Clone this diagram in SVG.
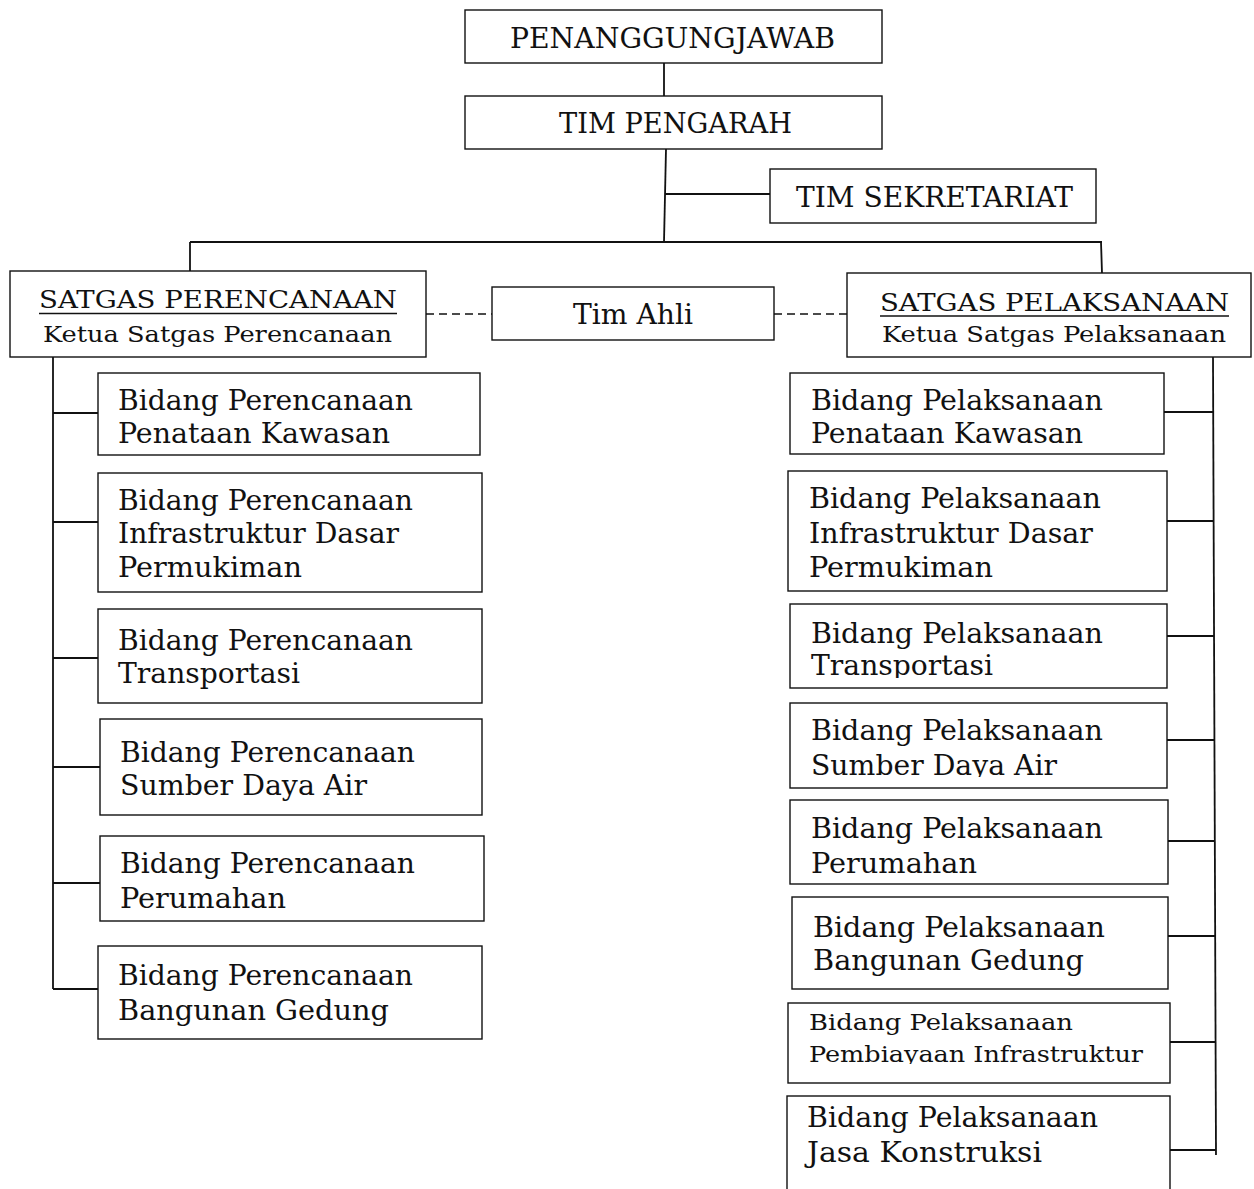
<svg xmlns="http://www.w3.org/2000/svg" width="1254" height="1189" viewBox="0 0 1254 1189">
<style>
.box{fill:#fff;stroke:#111;stroke-width:1.4}
.ln{stroke:#111;stroke-width:1.8;fill:none}
.dash{stroke:#111;stroke-width:1.5;stroke-dasharray:8 5;fill:none}
text{font-family:"DejaVu Serif","Liberation Serif",serif;fill:#111}
.t{font-size:27px}
.h{font-size:27px}
.s{font-size:24px}
.k{font-size:22px}
.m{font-size:22.5px}
</style>
<defs>
<clipPath id="cTr"><rect x="790" y="604" width="377" height="74"/></clipPath>
<clipPath id="cSda"><rect x="790" y="703" width="377" height="74"/></clipPath>
<clipPath id="cPb"><rect x="788" y="1003" width="382" height="61"/></clipPath>
<clipPath id="cKp"><rect x="847" y="273" width="407" height="74"/></clipPath>
</defs>
<rect width="1254" height="1189" fill="#fff"/>
<g id="connectors">
<line class="ln" x1="664" y1="63" x2="664" y2="96"/>
<line class="ln" x1="666" y1="149" x2="664" y2="242"/>
<line class="ln" x1="665" y1="194" x2="770" y2="194"/>
<line class="ln" x1="190" y1="242" x2="1102" y2="242"/>
<line class="ln" x1="190" y1="242" x2="190" y2="271"/>
<line class="ln" x1="1101" y1="242" x2="1102" y2="273"/>
<line class="dash" x1="426" y1="314" x2="492" y2="314"/>
<line class="dash" x1="774" y1="314" x2="847" y2="314"/>
<line class="ln" x1="53" y1="357" x2="53" y2="989"/>
<line class="ln" x1="53" y1="413" x2="98" y2="413"/>
<line class="ln" x1="53" y1="522" x2="100" y2="522"/>
<line class="ln" x1="53" y1="658" x2="98" y2="658"/>
<line class="ln" x1="53" y1="767" x2="100" y2="767"/>
<line class="ln" x1="53" y1="883" x2="102" y2="883"/>
<line class="ln" x1="53" y1="989" x2="98" y2="989"/>
<line class="ln" x1="1213" y1="357" x2="1216" y2="1155"/>
<line class="ln" x1="1164" y1="412" x2="1213" y2="412"/>
<line class="ln" x1="1167" y1="521" x2="1214" y2="521"/>
<line class="ln" x1="1165" y1="636" x2="1214" y2="636"/>
<line class="ln" x1="1167" y1="740" x2="1215" y2="740"/>
<line class="ln" x1="1168" y1="841" x2="1215" y2="841"/>
<line class="ln" x1="1168" y1="936" x2="1215" y2="936"/>
<line class="ln" x1="1170" y1="1042" x2="1216" y2="1042"/>
<line class="ln" x1="1170" y1="1150" x2="1216" y2="1150"/>
</g>
<g id="penanggungjawab">
<rect class="box" x="465" y="10" width="417" height="53"/>
<text class="h" x="510" y="48" textLength="325" lengthAdjust="spacingAndGlyphs">PENANGGUNGJAWAB</text>
</g>
<g id="tim-pengarah">
<rect class="box" x="465" y="96" width="417" height="53"/>
<text class="h" x="559" y="133" textLength="233" lengthAdjust="spacingAndGlyphs">TIM PENGARAH</text>
</g>
<g id="tim-sekretariat">
<rect class="box" x="770" y="169" width="326" height="54"/>
<text class="h" x="796" y="207" textLength="277" lengthAdjust="spacingAndGlyphs">TIM SEKRETARIAT</text>
</g>
<g id="satgas-perencanaan">
<rect class="box" x="10" y="271" width="416" height="86"/>
<text class="s" x="39" y="308" textLength="358" lengthAdjust="spacingAndGlyphs">SATGAS PERENCANAAN</text>
<line x1="39" y1="313.5" x2="397" y2="313.5" stroke="#111" stroke-width="1.6"/>
<text class="k" x="43" y="342" textLength="349" lengthAdjust="spacingAndGlyphs">Ketua Satgas Perencanaan</text>
</g>
<g id="tim-ahli">
<rect class="box" x="492" y="287" width="282" height="53"/>
<text class="t" x="573" y="324" textLength="120" lengthAdjust="spacingAndGlyphs">Tim Ahli</text>
</g>
<g id="satgas-pelaksanaan">
<rect class="box" x="847" y="273" width="404" height="84"/>
<text class="s" x="880" y="311" textLength="349" lengthAdjust="spacingAndGlyphs">SATGAS PELAKSANAAN</text>
<line x1="880" y1="316" x2="1229" y2="316" stroke="#111" stroke-width="1.6"/>
<text class="k" x="882" y="342" textLength="344" lengthAdjust="spacingAndGlyphs" clip-path="url(#cKp)">Ketua Satgas Pelaksanaan</text>
</g>
<g id="ren-penataan-kawasan">
<rect class="box" x="98" y="373" width="382" height="82"/>
<text class="t" x="118" y="410" textLength="295" lengthAdjust="spacingAndGlyphs">Bidang Perencanaan</text>
<text class="t" x="118" y="443" textLength="272" lengthAdjust="spacingAndGlyphs">Penataan Kawasan</text>
</g>
<g id="ren-infrastruktur">
<rect class="box" x="98" y="473" width="384" height="119"/>
<text class="t" x="118" y="510" textLength="295" lengthAdjust="spacingAndGlyphs">Bidang Perencanaan</text>
<text class="t" x="118" y="543" textLength="281" lengthAdjust="spacingAndGlyphs">Infrastruktur Dasar</text>
<text class="t" x="118" y="577" textLength="184" lengthAdjust="spacingAndGlyphs">Permukiman</text>
</g>
<g id="ren-transportasi">
<rect class="box" x="98" y="609" width="384" height="94"/>
<text class="t" x="118" y="650" textLength="295" lengthAdjust="spacingAndGlyphs">Bidang Perencanaan</text>
<text class="t" x="118" y="683" textLength="182" lengthAdjust="spacingAndGlyphs">Transportasi</text>
</g>
<g id="ren-sda">
<rect class="box" x="100" y="719" width="382" height="96"/>
<text class="t" x="120" y="762" textLength="295" lengthAdjust="spacingAndGlyphs">Bidang Perencanaan</text>
<text class="t" x="120" y="795" textLength="247" lengthAdjust="spacingAndGlyphs">Sumber Daya Air</text>
</g>
<g id="ren-perumahan">
<rect class="box" x="100" y="836" width="384" height="85"/>
<text class="t" x="120" y="873" textLength="295" lengthAdjust="spacingAndGlyphs">Bidang Perencanaan</text>
<text class="t" x="120" y="908" textLength="166" lengthAdjust="spacingAndGlyphs">Perumahan</text>
</g>
<g id="ren-gedung">
<rect class="box" x="98" y="946" width="384" height="93"/>
<text class="t" x="118" y="985" textLength="295" lengthAdjust="spacingAndGlyphs">Bidang Perencanaan</text>
<text class="t" x="118" y="1020" textLength="271" lengthAdjust="spacingAndGlyphs">Bangunan Gedung</text>
</g>
<g id="pel-penataan-kawasan">
<rect class="box" x="790" y="373" width="374" height="81"/>
<text class="t" x="811" y="410" textLength="292" lengthAdjust="spacingAndGlyphs">Bidang Pelaksanaan</text>
<text class="t" x="811" y="443" textLength="272" lengthAdjust="spacingAndGlyphs">Penataan Kawasan</text>
</g>
<g id="pel-infrastruktur">
<rect class="box" x="788" y="471" width="379" height="120"/>
<text class="t" x="809" y="508" textLength="292" lengthAdjust="spacingAndGlyphs">Bidang Pelaksanaan</text>
<text class="t" x="809" y="543" textLength="284" lengthAdjust="spacingAndGlyphs">Infrastruktur Dasar</text>
<text class="t" x="809" y="577" textLength="184" lengthAdjust="spacingAndGlyphs">Permukiman</text>
</g>
<g id="pel-transportasi">
<rect class="box" x="790" y="604" width="377" height="84"/>
<text class="t" x="811" y="643" textLength="292" lengthAdjust="spacingAndGlyphs">Bidang Pelaksanaan</text>
<text class="t" x="811" y="675" textLength="182" lengthAdjust="spacingAndGlyphs" clip-path="url(#cTr)">Transportasi</text>
</g>
<g id="pel-sda">
<rect class="box" x="790" y="703" width="377" height="85"/>
<text class="t" x="811" y="740" textLength="292" lengthAdjust="spacingAndGlyphs">Bidang Pelaksanaan</text>
<text class="t" x="811" y="775" textLength="246" lengthAdjust="spacingAndGlyphs" clip-path="url(#cSda)">Sumber Daya Air</text>
</g>
<g id="pel-perumahan">
<rect class="box" x="790" y="800" width="378" height="84"/>
<text class="t" x="811" y="838" textLength="292" lengthAdjust="spacingAndGlyphs">Bidang Pelaksanaan</text>
<text class="t" x="811" y="873" textLength="166" lengthAdjust="spacingAndGlyphs">Perumahan</text>
</g>
<g id="pel-gedung">
<rect class="box" x="792" y="897" width="376" height="92"/>
<text class="t" x="813" y="937" textLength="292" lengthAdjust="spacingAndGlyphs">Bidang Pelaksanaan</text>
<text class="t" x="813" y="970" textLength="271" lengthAdjust="spacingAndGlyphs">Bangunan Gedung</text>
</g>
<g id="pel-pembiayaan">
<rect class="box" x="788" y="1003" width="382" height="80"/>
<text class="m" x="809" y="1030" textLength="264" lengthAdjust="spacingAndGlyphs">Bidang Pelaksanaan</text>
<text class="m" x="809" y="1062" textLength="334" lengthAdjust="spacingAndGlyphs" clip-path="url(#cPb)">Pembiayaan Infrastruktur</text>
</g>
<g id="pel-jasa-konstruksi">
<rect class="box" x="787" y="1096" width="383" height="110"/>
<text class="t" x="807" y="1127" textLength="291" lengthAdjust="spacingAndGlyphs">Bidang Pelaksanaan</text>
<text class="t" x="807" y="1162" textLength="235" lengthAdjust="spacingAndGlyphs">Jasa Konstruksi</text>
</g>
</svg>
